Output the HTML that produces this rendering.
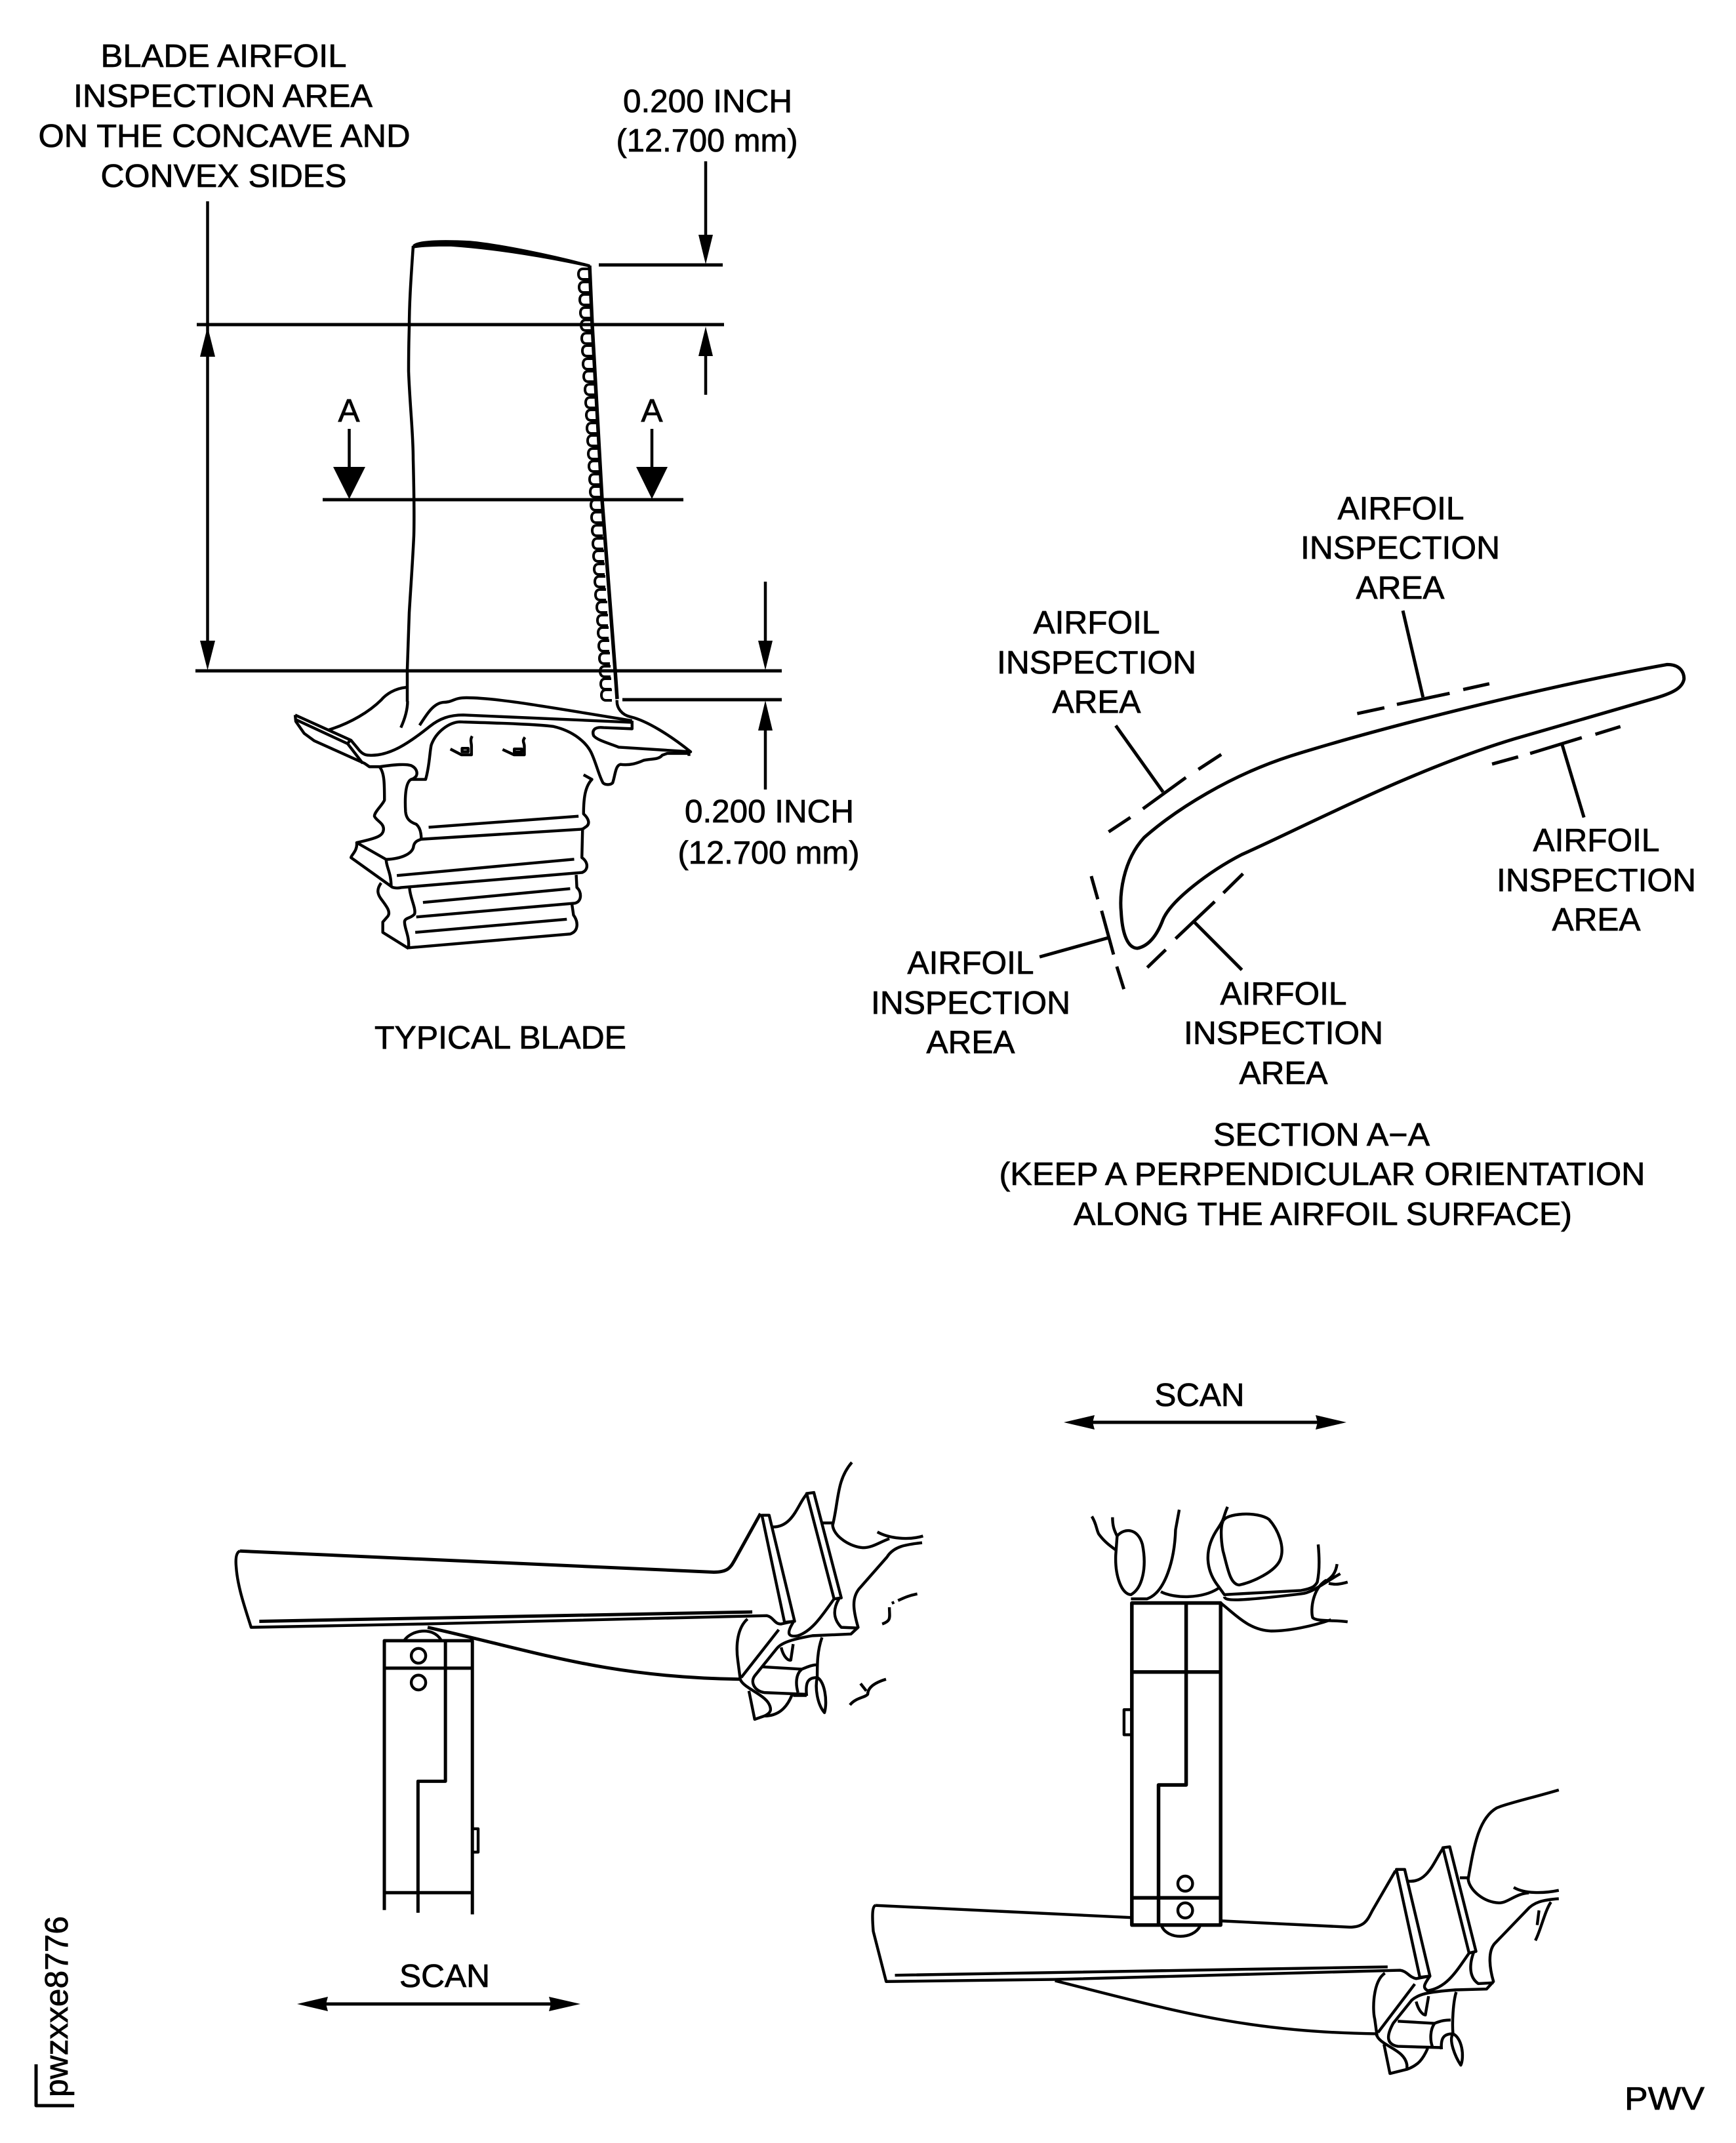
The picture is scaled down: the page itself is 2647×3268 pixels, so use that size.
<!DOCTYPE html>
<html><head><meta charset="utf-8"><style>
html,body{margin:0;padding:0;background:#fff}
svg{display:block}
svg *{vector-effect:non-scaling-stroke}
text{font-family:"Liberation Sans",Arial,sans-serif;font-size:49.5px;fill:#000;stroke:#000;stroke-width:.8px;text-anchor:middle}
.l{fill:none;stroke:#000;stroke-linecap:butt;stroke-linejoin:round}
</style></head><body>
<svg xmlns="http://www.w3.org/2000/svg" width="2647" height="3268" viewBox="0 0 2647 3268">
<rect width="2647" height="3268" fill="#fff"/>

<text x="341" y="102" textLength="375" lengthAdjust="spacingAndGlyphs">BLADE AIRFOIL</text>
<text x="340" y="163" textLength="456" lengthAdjust="spacingAndGlyphs">INSPECTION AREA</text>
<text x="342" y="224" textLength="567" lengthAdjust="spacingAndGlyphs">ON THE CONCAVE AND</text>
<text x="341" y="285" textLength="375" lengthAdjust="spacingAndGlyphs">CONVEX SIDES</text>
<text x="1079" y="171" textLength="258" lengthAdjust="spacingAndGlyphs">0.200 INCH</text>
<text x="1078" y="231" textLength="277" lengthAdjust="spacingAndGlyphs">(12.700 mm)</text>
<text x="1173" y="1254" textLength="258" lengthAdjust="spacingAndGlyphs">0.200 INCH</text>
<text x="1172" y="1317" textLength="277" lengthAdjust="spacingAndGlyphs">(12.700 mm)</text>
<text x="763" y="1599" textLength="384" lengthAdjust="spacingAndGlyphs">TYPICAL BLADE</text>
<text x="532" y="643">A</text>
<text x="994" y="643">A</text>

<g class="l" stroke-width="5">
<path d="M913 404H1102M300 495H1104M492 762H1042M298 1023H1192M949 1067H1192"/>
<path stroke-width="4.500" d="M1076 246V360M1076 540V602M316.500 307V1000M1167 887V980M1167 1110V1204M532.500 654V715M994 654V715"/>
</g>
<g fill="#000">
<polygon points="1076,403 1065,358 1087,358"/>
<polygon points="1076,498 1065,543 1087,543"/>
<polygon points="316.500,498 305,544 328,544"/>
<polygon points="316.500,1022 305,977 328,977"/>
<polygon points="1167,1022 1156,977 1178,977"/>
<polygon points="1167,1068 1156,1114 1178,1114"/>
<polygon points="532.500,761 508,712 557,712"/>
<polygon points="994,761 970,712 1018,712"/>
</g>

<!-- airfoil of typical blade -->
<g class="l" stroke-width="4.500">
<path d="M630 375C627 420 624 460 624 499C623 530 623 550 623 566C625 620 630 660 630 700C631 740 632 780 631 817C629 860 626 900 624 934L621 1021V1070"/>
<path stroke-width="5.500" d="M899 405L903 496L918 762L938 1023L941 1066"/>
<path fill="#000" stroke-width="1.500" d="M630 374C638 366 680 366 717 368C760 372 840 388 899 404L899 407C840 394 760 380 686 375C660 375 640 376 631 378Z"/>
<path stroke-width="4" d="M898 410h-9c-5 0-7 4-7 8s2 8 7 8h9M899 430h-9c-5 0-7 4-7 8s2 8 7 8h9M900 449h-9c-5 0-7 4-7 8s2 8 7 8h9M901 469h-9c-5 0-7 4-7 8s2 8 7 8h9M902 488h-9c-5 0-7 4-7 8s2 8 7 8h9M903 508h-9c-5 0-7 4-7 8s2 8 7 8h9M904 527h-9c-5 0-7 4-7 8s2 8 7 8h9M905 547h-9c-5 0-7 4-7 8s2 8 7 8h9M906 566h-9c-5 0-7 4-7 8s2 8 7 8h9M908 586h-9c-5 0-7 4-7 8s2 8 7 8h9M909 606h-9c-5 0-7 4-7 8s2 8 7 8h9M910 625h-9c-5 0-7 4-7 8s2 8 7 8h9M911 645h-9c-5 0-7 4-7 8s2 8 7 8h9M912 664h-9c-5 0-7 4-7 8s2 8 7 8h9M913 684h-9c-5 0-7 4-7 8s2 8 7 8h9M914 703h-9c-5 0-7 4-7 8s2 8 7 8h9M915 723h-9c-5 0-7 4-7 8s2 8 7 8h9M916 742h-9c-5 0-7 4-7 8s2 8 7 8h9M917 762h-9c-5 0-7 4-7 8s2 8 7 8h9M918 781h-9c-5 0-7 4-7 8s2 8 7 8h9M919 801h-9c-5 0-7 4-7 8s2 8 7 8h9M920 821h-9c-5 0-7 4-7 8s2 8 7 8h9M921 840h-9c-5 0-7 4-7 8s2 8 7 8h9M922 860h-9c-5 0-7 4-7 8s2 8 7 8h9M923 879h-9c-5 0-7 4-7 8s2 8 7 8h9M924 899h-9c-5 0-7 4-7 8s2 8 7 8h9M926 918h-9c-5 0-7 4-7 8s2 8 7 8h9M927 938h-9c-5 0-7 4-7 8s2 8 7 8h9M928 957h-9c-5 0-7 4-7 8s2 8 7 8h9M929 977h-9c-5 0-7 4-7 8s2 8 7 8h9M930 996h-9c-5 0-7 4-7 8s2 8 7 8h9M931 1016h-9c-5 0-7 4-7 8s2 8 7 8h9M932 1035h-9c-5 0-7 4-7 8s2 8 7 8h9M933 1052h-9c-5 0-7 4-7 8s2 8 7 8h9"/>
</g>

<!-- blade root -->
<g class="l" stroke-width="4.400" transform="translate(400,950) scale(0.5102,0.3508)">
<path d="M434 340C434 370 428 410 414 455"/>
<path d="M430 280C395 285 370 310 355 335C320 385 265 435 198 465"/>
<path d="M98 400L265 510L285 545C295 565 305 575 320 575C380 580 440 520 500 450C530 415 560 400 600 400L1105 432"/>
<path d="M470 445C490 400 510 350 540 345C570 345 570 325 610 325C700 325 850 365 1105 425"/>
<path d="M98 400L100 428L125 480L155 512L305 610L320 625H350C400 615 430 612 445 620C460 630 465 650 460 665C455 675 450 678 445 680C430 690 425 740 428 820C430 850 440 865 460 875C472 890 475 915 475 940"/>
<path d="M100 420L255 525L300 610M262 510L255 525"/>
<path d="M350 625C365 650 365 700 365 770C360 790 335 820 335 840C340 860 365 870 362 900C360 925 345 935 282 955"/>
<path d="M445 680H488C500 620 500 560 505 530C520 470 560 432 590 430C700 435 820 440 870 450C930 470 970 520 985 570C1000 620 1005 660 1018 695C1025 705 1040 705 1047 695C1055 660 1055 620 1070 615C1100 620 1120 610 1140 597C1160 590 1185 595 1195 575L1210 567H1275V578"/>
<path d="M1060 335C1058 370 1075 400 1100 408C1150 425 1220 490 1280 560L1065 540C1040 525 1000 510 990 490C985 470 990 450 1020 455L1105 460V425"/>
<path d="M627 492C620 510 625 520 625 535V573H595L562 548M785 497C775 515 783 520 783 535V573H752L718 550"/>
<rect x="597" y="545" width="18" height="15"/><rect x="753" y="548" width="22" height="14"/>
<path d="M960 660L985 680C965 710 960 760 960 830C975 850 982 875 965 888C960 895 955 897 950 897L475 940"/>
<path d="M957 897L955 1020C975 1040 975 1075 955 1085L415 1150C400 1155 387 1150 385 1145L265 1020C265 1010 285 990 282 955L370 1028C420 1025 450 1000 452 970C455 950 465 945 475 940"/>
<path d="M370 1028C370 1060 385 1085 385 1145M402 1098L932 1027M497 888L945 840"/>
<path d="M938 1095L940 1150C955 1170 955 1210 935 1218L460 1278M480 1215L920 1155"/>
<path d="M355 1130C340 1160 345 1180 355 1200C370 1230 385 1255 375 1275L360 1300V1345L437 1415M440 1150C440 1190 460 1240 455 1265C445 1285 425 1280 425 1300C425 1330 440 1360 437 1412L920 1352C945 1340 945 1300 930 1270L925 1220"/>
<path d="M457 1345L910 1288"/>
</g>

<!-- section A-A -->
<g class="l" stroke-width="5" transform="translate(1280,720) scale(0.8292,0.7334)">
<path d="M1522 400C1300 445 1000 530 830 590C720 630 620 700 560 760C520 810 515 880 518 915C520 960 530 990 548 990C570 985 585 960 595 930C610 890 680 830 740 795C850 740 1050 620 1240 555L1500 470C1530 460 1550 450 1553 430C1553 415 1545 400 1522 400Z"/>
<path d="M952 502L1002 490M1025 483L1122 460M1147 452L1195 440M1036 288L1073 468M495 748L535 718M558 700L637 635M660 618L702 587M508 527L595 665M1200 607L1248 592M1270 585L1365 552M1390 545L1436 529M1329 567L1369 718M463 840L475 888M482 912L504 1003M510 1028L523 1075M368 1008L495 968M566 1030L600 993M618 970L690 893M706 875L742 835M652 935L740 1035"/>
</g>
<text x="2136" y="792" textLength="193" lengthAdjust="spacingAndGlyphs">AIRFOIL</text>
<text x="2135" y="852" textLength="304" lengthAdjust="spacingAndGlyphs">INSPECTION</text>
<text x="2135" y="913" textLength="135" lengthAdjust="spacingAndGlyphs">AREA</text>
<text x="1672" y="966" textLength="193" lengthAdjust="spacingAndGlyphs">AIRFOIL</text>
<text x="1672" y="1027" textLength="304" lengthAdjust="spacingAndGlyphs">INSPECTION</text>
<text x="1672" y="1087" textLength="135" lengthAdjust="spacingAndGlyphs">AREA</text>
<text x="2434" y="1298" textLength="193" lengthAdjust="spacingAndGlyphs">AIRFOIL</text>
<text x="2434" y="1359" textLength="304" lengthAdjust="spacingAndGlyphs">INSPECTION</text>
<text x="2434" y="1419" textLength="135" lengthAdjust="spacingAndGlyphs">AREA</text>
<text x="1480" y="1485" textLength="193" lengthAdjust="spacingAndGlyphs">AIRFOIL</text>
<text x="1480" y="1546" textLength="304" lengthAdjust="spacingAndGlyphs">INSPECTION</text>
<text x="1480" y="1606" textLength="135" lengthAdjust="spacingAndGlyphs">AREA</text>
<text x="1957" y="1532" textLength="193" lengthAdjust="spacingAndGlyphs">AIRFOIL</text>
<text x="1957" y="1592" textLength="304" lengthAdjust="spacingAndGlyphs">INSPECTION</text>
<text x="1957" y="1653" textLength="135" lengthAdjust="spacingAndGlyphs">AREA</text>
<text x="2015" y="1747" textLength="330" lengthAdjust="spacingAndGlyphs">SECTION A−A</text>
<text x="2016" y="1807" textLength="985" lengthAdjust="spacingAndGlyphs">(KEEP A PERPENDICULAR ORIENTATION</text>
<text x="2017" y="1868" textLength="760" lengthAdjust="spacingAndGlyphs">ALONG THE AIRFOIL SURFACE)</text>

<!-- left scan view -->
<g class="l" stroke-width="4.400" transform="translate(300,2150) scale(0.7334,0.5102)">
<path d="M90 422C83 425 80 440 82 470C85 530 100 590 113 650L470 640L1185 615C1200 620 1200 640 1215 640L1240 632"/>
<path stroke-width="5" d="M90 422L1075 485C1105 485 1110 470 1118 450L1172 310"/>
<path stroke-width="5" d="M130 632L1155 604"/>
<path d="M1175 315H1190L1243 632L1222 635Z"/>
<path d="M1268 250L1283 247L1340 562L1325 565Z"/>
<path d="M1198 350C1240 350 1250 280 1268 252M1300 338H1322"/>
<path d="M1362 157C1330 210 1335 270 1322 345C1325 380 1360 410 1385 412C1405 412 1420 395 1440 385M1415 365C1440 385 1480 390 1510 377"/>
<path d="M1508 397C1480 402 1450 405 1435 440L1380 530C1360 560 1365 600 1375 650L1360 670L1280 675C1240 685 1215 695 1205 715L1160 795C1150 815 1160 840 1180 845L1265 850"/>
<path d="M1325 565C1300 615 1280 660 1250 675C1230 680 1225 670 1240 635M1335 565C1325 590 1320 620 1340 650L1375 652"/>
<path d="M1145 625C1125 650 1120 700 1125 750L1130 805M1210 657L1132 800"/>
<path stroke-width="5" d="M480 650C700 720 850 800 1130 805"/>
<path d="M1130 805C1135 830 1180 850 1190 880C1195 895 1195 905 1180 915L1160 925L1148 840M1180 915C1215 915 1230 880 1238 850"/>
<path d="M1215 710C1220 740 1230 750 1235 748L1240 700M1175 768L1258 775C1270 768 1280 762 1288 762M1300 680C1290 720 1290 760 1290 800M1258 775C1245 790 1245 820 1250 845"/>
<path d="M1268 855C1265 815 1270 800 1290 800C1305 810 1312 870 1305 905C1290 880 1285 830 1290 800"/>
<path stroke-width="6" d="M1240 852H1268"/>
<path d="M1498 550C1480 555 1470 562 1458 570M1445 578L1450 575M1440 590C1440 620 1445 630 1425 640M1433 805C1410 815 1395 830 1395 850C1390 860 1370 860 1358 882M1380 818L1392 840"/>
<path d="M432 688C445 660 490 645 508 688"/>
<path stroke-width="5" d="M390 1495V690H573V1508M390 772H570M517 690V1110H460V1503M390 1443H573"/>
<ellipse cx="461" cy="735" rx="15" ry="22"/><ellipse cx="461" cy="815" rx="15" ry="22"/>
<path d="M575 1252H585V1322H575"/>
</g>
<text x="678" y="3030" textLength="138" lengthAdjust="spacingAndGlyphs">SCAN</text>
<path class="l" stroke-width="5" d="M490 3056H850"/>
<polygon points="453,3056 500,3045 497,3056 500,3067"/>
<polygon points="885,3056 837,3045 840,3056 837,3067"/>

<!-- right scan view -->
<text x="1829" y="2144" textLength="137" lengthAdjust="spacingAndGlyphs">SCAN</text>
<path class="l" stroke-width="5" d="M1660 2169H2015"/>
<polygon points="1622,2169 1669,2158 1666,2169 1669,2180"/>
<polygon points="2053,2169 2006,2158 2009,2169 2006,2180"/>
<g class="l" stroke-width="4.400" transform="translate(1300,2250) scale(0.7015,0.6378)">
<path stroke-width="5.500" d="M607 305H800V1075H607ZM607 470H800M725 305V740H665V1075M607 1010H800"/>
<ellipse cx="723" cy="976" rx="16" ry="18"/><ellipse cx="723" cy="1040" rx="16" ry="18"/>
<path d="M605 560H590V620H605M672 1078C685 1110 740 1110 755 1078"/>
<path d="M50 1028C43 1030 42 1050 45 1090L73 1210L440 1205L1190 1183C1205 1185 1210 1200 1225 1203L1255 1197"/>
<path d="M50 1028L605 1057M800 1065L1080 1080C1115 1080 1120 1060 1130 1040L1180 945M92 1195L1163 1175"/>
<path d="M1182 942H1200L1255 1197L1233 1200Z"/>
<path d="M1283 890L1298 888L1355 1138L1340 1142Z"/>
<path d="M1208 970C1250 975 1265 920 1283 892M1320 962H1340"/>
<path d="M1535 752C1480 770 1420 785 1400 795C1360 820 1350 890 1338 965C1340 990 1370 1020 1405 1022C1425 1022 1440 1000 1470 998M1437 985C1460 1000 1500 1000 1535 992"/>
<path d="M1535 1012C1500 1015 1480 1020 1465 1040L1395 1120C1380 1140 1385 1180 1393 1210L1378 1228L1310 1230C1250 1235 1230 1240 1215 1255L1175 1310C1160 1340 1160 1360 1185 1365L1280 1368"/>
<path d="M1340 1142C1310 1190 1290 1225 1250 1232C1240 1225 1240 1220 1255 1197M1350 1140C1340 1170 1340 1200 1360 1215L1393 1213"/>
<path d="M1157 1190C1130 1210 1130 1280 1135 1300L1140 1340M1222 1216L1142 1332"/>
<path d="M440 1208C700 1280 850 1330 1138 1335"/>
<path d="M1138 1335C1145 1365 1200 1370 1205 1410V1420L1168 1430L1155 1360M1205 1420C1230 1410 1240 1395 1250 1370"/>
<path d="M1225 1258C1230 1280 1240 1290 1245 1290L1252 1245M1185 1305L1265 1310C1280 1303 1290 1302 1300 1302M1312 1235C1305 1260 1303 1310 1305 1335M1265 1310C1255 1325 1255 1350 1260 1365"/>
<path d="M1280 1372C1278 1345 1285 1335 1305 1335C1325 1345 1330 1390 1322 1410C1310 1390 1295 1350 1305 1335"/>
<path d="M1518 1020C1505 1040 1495 1090 1484 1112M1492 1040L1488 1075"/>
<path d="M520 98C530 115 530 130 535 140C545 155 555 165 572 178M565 100C565 120 568 130 575 145"/>
<path d="M575 145C590 125 620 125 630 165C640 220 630 270 605 285C585 285 570 240 572 190L575 145"/>
<path d="M605 295H640C680 280 700 200 702 130L710 82M670 278C700 295 760 295 795 270"/>
<path d="M805 110C810 90 880 85 905 105C925 130 940 170 930 200C920 230 870 255 840 262C820 260 815 220 805 180C800 150 800 120 805 110"/>
<path d="M815 75C805 100 810 100 795 125C760 180 770 230 795 265L808 285L975 275C1000 270 1005 265 1010 255C1015 230 1015 200 1012 165"/>
<path d="M808 290C810 300 830 302 975 283C1000 280 1020 260 1060 235M1053 212C1050 235 1040 245 1030 252M1035 258C1050 262 1060 260 1076 255"/>
<path d="M1030 250C1000 270 995 320 1000 340C1010 350 1040 345 1076 350M800 305C830 330 860 370 910 372C950 372 1000 360 1040 345"/>
</g>

<text x="2538" y="3217" textLength="122" lengthAdjust="spacingAndGlyphs">PWV</text>
<text transform="translate(103,3198) rotate(-90)" style="text-anchor:start" textLength="276" lengthAdjust="spacingAndGlyphs">pwzxxe8776</text>
<path class="l" stroke-width="5" d="M55 3148V3211H113"/>
</svg>
</body></html>
